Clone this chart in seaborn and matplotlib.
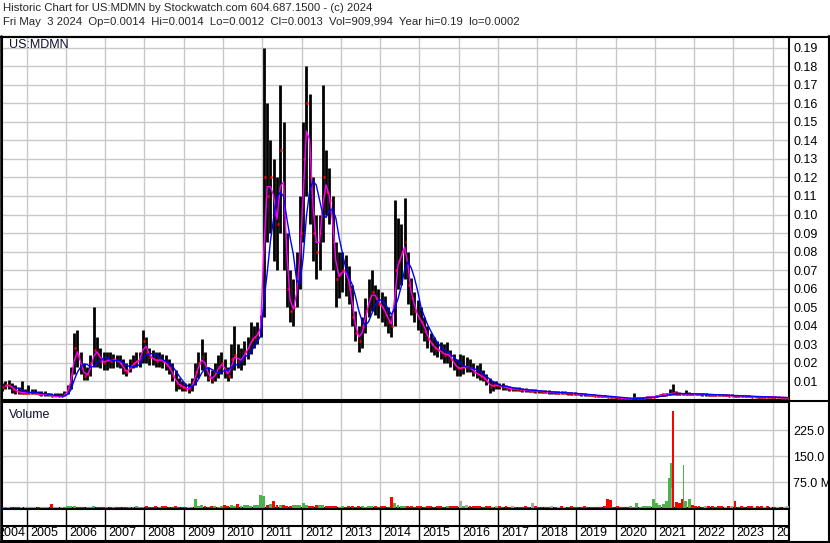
import numpy as np
import pandas as pd
import matplotlib
matplotlib.use("Agg")
import matplotlib.pyplot as plt
from matplotlib.lines import Line2D
from matplotlib.ticker import FormatStrFormatter
import seaborn as sns

# monthly bars, May 2004 .. May 2024
start_year, start_month = 2004, 5

high = [
    .009, .010, .011, .009, .008, .007, .010, .006,                          # 2004
    .008, .006, .006, .005, .005, .005, .004, .004, .004, .004, .004, .005,  # 2005
    .008, .018, .036, .038, .026, .020, .018, .024, .050, .034, .028, .026,  # 2006
    .026, .026, .025, .024, .024, .022, .020, .022, .024, .026, .026, .038,  # 2007
    .034, .028, .027, .026, .026, .025, .024, .022, .020, .016, .012, .010,  # 2008
    .009, .009, .012, .020, .026, .033, .026, .018, .016, .020, .024, .026,  # 2009
    .022, .018, .030, .040, .030, .028, .032, .034, .042, .040, .042, .046,  # 2010
    .190, .160, .140, .130, .120, .170, .150, .090, .070, .065, .080, .110,  # 2011
    .150, .180, .165, .120, .100, .100, .170, .135, .125, .110, .085, .080,  # 2012
    .080, .078, .072, .062, .048, .040, .045, .055, .065, .070, .062, .060,  # 2013
    .058, .056, .050, .046, .108, .098, .095, .109, .080, .066, .058, .054,  # 2014
    .050, .045, .040, .036, .034, .032, .031, .030, .031, .027, .025, .022,  # 2015
    .025, .024, .023, .022, .020, .019, .020, .016, .014, .012, .010, .010,  # 2016
    .0094, .0090, .0080, .0075, .0072, .0070, .0068, .0066, .0064, .0060, .0060, .0058,  # 2017
    .0056, .0054, .0054, .0052, .0050, .0048, .0047, .0046, .0046, .0044, .0042, .0041,  # 2018
    .0040, .0038, .0036, .0034, .0032, .0030, .0028, .0026, .0025, .0024, .0022, .0020,  # 2019
    .0016, .0014, .0012, .0010, .0011, .0036, .0014, .0016, .0017, .0019, .0022, .0024,  # 2020
    .0026, .0032, .0036, .0040, .0060, .0086, .0050, .0042, .0040, .0054, .0042, .0040,  # 2021
    .0040, .0038, .0037, .0036, .0035, .0034, .0033, .0032, .0031, .0031, .0030, .0030,  # 2022
    .0029, .0028, .0027, .0026, .0025, .0024, .0023, .0022, .0021, .0021, .0020, .0020,  # 2023
    .0018, .0018, .0017, .0016, .0014,                                                   # 2024
]

low = [
    .005, .006, .006, .004, .003, .003, .003, .003,
    .003, .003, .003, .003, .002, .002, .002, .002, .002, .002, .002, .002,
    .003, .006, .014, .018, .014, .011, .011, .013, .018, .018, .017, .016,
    .016, .017, .017, .018, .017, .014, .013, .015, .017, .018, .018, .020,
    .020, .019, .019, .018, .018, .017, .016, .014, .010, .005, .006, .005,
    .005, .004, .005, .008, .012, .016, .013, .010, .009, .010, .012, .014,
    .012, .010, .012, .016, .017, .016, .019, .022, .025, .028, .030, .034,
    .045, .085, .090, .075, .070, .090, .070, .050, .042, .040, .050, .060,
    .085, .110, .095, .075, .065, .070, .085, .100, .095, .070, .050, .055,
    .058, .056, .052, .040, .032, .026, .028, .036, .045, .048, .046, .044,
    .042, .040, .036, .034, .040, .060, .062, .065, .052, .046, .042, .038,
    .036, .032, .028, .026, .024, .023, .022, .020, .020, .018, .016, .013,
    .013, .014, .015, .015, .013, .012, .011, .010, .008, .004, .005, .006,
    .0060, .0056, .0052, .0050, .0049, .0047, .0046, .0045, .0043, .0042, .0041, .0040,
    .0038, .0037, .0036, .0034, .0034, .0032, .0032, .0031, .0030, .0029, .0028, .0027,
    .0026, .0024, .0022, .0021, .0020, .0019, .0017, .0016, .0015, .0014, .0012, .0011,
    .0008, .0006, .0005, .0004, .0005, .0006, .0007, .0009, .0010, .0011, .0012, .0014,
    .0015, .0019, .0021, .0023, .0026, .0028, .0027, .0026, .0025, .0026, .0027, .0026,
    .0025, .0025, .0024, .0024, .0023, .0022, .0021, .0021, .0020, .0020, .0019, .0019,
    .0018, .0017, .0016, .0016, .0015, .0014, .0014, .0013, .0012, .0012, .0012, .0011,
    .0010, .0010, .0010, .0011, .0012,
]

close = [
    .007, .008, .008, .006, .005, .004, .004, .004,
    .004, .004, .004, .003, .003, .003, .003, .002, .002, .002, .002, .003,
    .006, .014, .028, .024, .017, .013, .014, .020, .027, .025, .021, .020,
    .022, .021, .022, .021, .020, .016, .015, .018, .020, .021, .022, .032,
    .026, .023, .022, .021, .022, .021, .019, .017, .013, .009, .008, .007,
    .006, .006, .009, .015, .020, .023, .017, .012, .011, .015, .018, .020,
    .015, .013, .022, .024, .021, .022, .026, .028, .033, .034, .036, .042,
    .120, .110, .120, .100, .095, .135, .100, .060, .048, .050, .065, .090,
    .130, .160, .120, .090, .080, .090, .120, .112, .108, .085, .065, .068,
    .070, .068, .060, .045, .036, .032, .040, .048, .055, .058, .055, .052,
    .050, .046, .042, .040, .070, .075, .080, .085, .062, .055, .048, .044,
    .042, .037, .033, .030, .028, .027, .026, .024, .025, .022, .019, .017,
    .017, .018, .018, .017, .015, .014, .013, .012, .010, .007, .008, .008,
    .0075, .0070, .0065, .0060, .0060, .0058, .0056, .0055, .0052, .0050, .0050, .0048,
    .0046, .0045, .0044, .0042, .0042, .0040, .0040, .0038, .0038, .0036, .0035, .0034,
    .0032, .0030, .0028, .0027, .0025, .0024, .0022, .0020, .0019, .0018, .0016, .0015,
    .0012, .0010, .0008, .0007, .0008, .0009, .0010, .0012, .0013, .0014, .0016, .0018,
    .0020, .0025, .0028, .0030, .0035, .0038, .0035, .0034, .0032, .0033, .0034, .0033,
    .0032, .0031, .0030, .0030, .0029, .0028, .0027, .0026, .0025, .0025, .0024, .0024,
    .0023, .0022, .0021, .0020, .0019, .0018, .0018, .0017, .0016, .0016, .0015, .0015,
    .0014, .0014, .0013, .0013, .0013,
]

# typical volume per month, millions of shares
volume = [
    3, 2, 2, 3, 2, 2, 2, 3,
    3, 2, 2, 3, 2, 3, 2, 12, 3, 2, 3, 4,
    5, 6, 5, 4, 3, 4, 3, 4, 5, 4, 3, 3,
    3, 3, 4, 3, 3, 4, 3, 4, 3, 5, 4, 3,
    6, 4, 4, 5, 4, 6, 5, 4, 3, 5, 4, 3,
    4, 3, 4, 26, 6, 8, 5, 4, 7, 5, 4, 6,
    8, 5, 9, 6, 12, 7, 8, 10, 6, 9, 8, 37,
    36, 10, 12, 21, 9, 8, 10, 7, 6, 9, 8, 10,
    14, 8, 6, 7, 9, 10, 8, 5, 6, 7, 5, 4,
    5, 4, 6, 5, 4, 5, 6, 4, 5, 6, 5, 4,
    6, 5, 4, 31, 14, 8, 5, 6, 7, 5, 4, 6,
    5, 4, 6, 5, 4, 5, 6, 4, 5, 6, 5, 6,
    20, 6, 8, 5, 7, 6, 5, 4, 6, 5, 4, 5,
    6, 4, 5, 4, 5, 4, 3, 4, 5, 4, 14, 5,
    4, 3, 4, 3, 5, 4, 3, 6, 4, 3, 5, 3,
    4, 3, 5, 3, 4, 3, 4, 3, 5, 26, 24, 4,
    5, 3, 4, 4, 5, 4, 15, 4, 5, 6, 5, 25,
    14, 10, 12, 20, 32, 20, 18, 15, 26, 20, 26, 10,
    6, 5, 4, 5, 6, 5, 4, 5, 6, 4, 5, 6,
    20, 4, 5, 4, 6, 5, 4, 5, 6, 4, 5, 3,
    4, 3, 4, 3, 5,
]

# single-day volume spikes in 2021
spike_dates = [2021.36, 2021.42, 2021.43, 2021.46, 2021.73]
spike_vols = [86, 129, 58, 280, 124]
spike_colors = ["green", "green", "grey", "red", "green"]

years = list(range(2004, 2025))
price_ticks = [0.01, 0.02, 0.03, 0.04, 0.05, 0.06, 0.07, 0.08, 0.09, 0.10,
               0.11, 0.12, 0.13, 0.14, 0.15, 0.16, 0.17, 0.18, 0.19]
vol_ticks = [75, 150, 225]
vol_labels = ["75.0 M", "150.0", "225.0"]

header1 = "Historic Chart for US:MDMN by Stockwatch.com 604.687.1500 - (c) 2024"
header2 = ("Fri May  3 2024  Op=0.0014  Hi=0.0014  Lo=0.0012  Cl=0.0013  "
           "Vol=909,994  Year hi=0.19  lo=0.0002")

assert len(high) == len(low) == len(close) == len(volume) == 241

df = pd.DataFrame({"high": high, "low": low, "close": close, "volume": volume})
df["t"] = start_year + (start_month - 1 + np.arange(len(df)) + 0.5) / 12
df["ma_fast"] = df["close"].rolling(2).mean()
df["ma_slow"] = df["close"].rolling(5).mean()
chg = df["close"].diff().fillna(0)
palette = {"green": "#4cb24c", "red": "#ff0000", "grey": "#a8a8a8"}
df["vcolor"] = np.where(chg > 0, palette["green"],
                        np.where(chg < 0, palette["red"], palette["grey"]))

sns.set_style("white")
plt.rcParams["font.family"] = ["Liberation Sans", "DejaVu Sans"]

W, H = 830, 543
fig = plt.figure(figsize=(W / 100, H / 100), dpi=100)


def box(x0, y0, x1, y1):
    # pixel box (top-left origin) -> figure rect
    return [x0 / W, 1 - y1 / H, (x1 - x0) / W, (y1 - y0) / H]


xlim = (2004.371, 2024.417)
grid_c = "#c8c8c8"

# price panel
ax = fig.add_axes(box(2, 37, 789, 400))
ax.vlines(df["t"], df["low"], df["high"], color="black", lw=2.0, zorder=3)
ax.hlines(df["close"], df["t"], df["t"] + 0.045, color="red", lw=2, zorder=4)
sns.lineplot(x=df["t"], y=df["ma_fast"], ax=ax, color="#ff00ff", lw=1.0,
             estimator=None, zorder=5)
sns.lineplot(x=df["t"], y=df["ma_slow"], ax=ax, color="#0000ff", lw=1.0,
             estimator=None, zorder=6)
ax.set_xlim(*xlim)
ax.set_ylim(0, 0.1957)
ax.set_xticks(years[1:])
ax.set_yticks(price_ticks)
ax.yaxis.set_major_formatter(FormatStrFormatter("%.2f"))
ax.yaxis.tick_right()
ax.tick_params(axis="y", length=0, pad=3, labelsize=9, labelcolor="black")
ax.tick_params(axis="x", length=0, labelbottom=False)
ax.grid(True, color=grid_c, lw=1, zorder=0)
ax.set_axisbelow(True)
ax.set_xlabel("")
ax.set_ylabel("")
for s in ax.spines.values():
    s.set_color("black")
    s.set_linewidth(1.5)
ax.text(0.009, 0.995, "US:MDMN", transform=ax.transAxes, ha="left", va="top",
        fontsize=9, color="#101030")

# volume panel
axv = fig.add_axes(box(2, 402, 789, 508))
axv.bar(df["t"], df["volume"], width=1 / 12 * 0.9, color=df["vcolor"],
        edgecolor="none", linewidth=0, zorder=3)
axv.bar(spike_dates, spike_vols, width=0.05,
        color=[palette[c] for c in spike_colors], edgecolor="none",
        linewidth=0, zorder=4)
axv.set_xlim(*xlim)
axv.set_ylim(0, 306)
axv.set_xticks(years[1:])
axv.set_yticks(vol_ticks)
axv.set_yticklabels(vol_labels)
axv.yaxis.tick_right()
axv.tick_params(axis="y", length=0, pad=3, labelsize=9, labelcolor="black")
axv.tick_params(axis="x", length=0, labelbottom=False)
axv.grid(True, color=grid_c, lw=1, zorder=0)
axv.set_axisbelow(True)
for s in axv.spines.values():
    s.set_color("black")
    s.set_linewidth(1.5)
axv.text(0.009, 0.93, "Volume", transform=axv.transAxes, ha="left", va="top",
         fontsize=9, color="#101030")

# date strip
axd = fig.add_axes(box(2, 509, 789, 541))
axd.set_xlim(*xlim)
axd.set_ylim(0, 32)
axd.vlines(years[1:], 0, 32, color="black", lw=1)
axd.axhline(15.5, color="black", lw=1.5)
for i, y in enumerate(years):
    if i == 0:
        # first year only has a sliver; its label sits against the next line
        axd.text(y + 1 - 0.03, 7.5, str(y), ha="right", va="center",
                 fontsize=9, color="black", clip_on=True)
    else:
        axd.text(y + 0.085, 7.5, str(y), ha="left", va="center", fontsize=9,
                 color="black", clip_on=True)
axd.set_xticks([])
axd.set_yticks([])
for s in axd.spines.values():
    s.set_color("black")
    s.set_linewidth(1.5)


def fline(x0, y0, x1, y1, lw=1.5):
    fig.add_artist(Line2D([x0 / W, x1 / W], [1 - y0 / H, 1 - y1 / H],
                          color="black", lw=lw))


fline(0, 36.5, W, 36.5)
fline(789, 400.5, W, 400.5)
fline(828.5, 36, 828.5, 542)
fline(0, 541.5, W, 541.5)
fline(0.8, 36, 0.8, 542, lw=1.8)

fig.text(3 / W, 1 - 8 / H, header1, ha="left", va="center", fontsize=8.2)
fig.text(3 / W, 1 - 22 / H, header2, ha="left", va="center", fontsize=8.2)

fig.savefig("out.png", dpi=100)
